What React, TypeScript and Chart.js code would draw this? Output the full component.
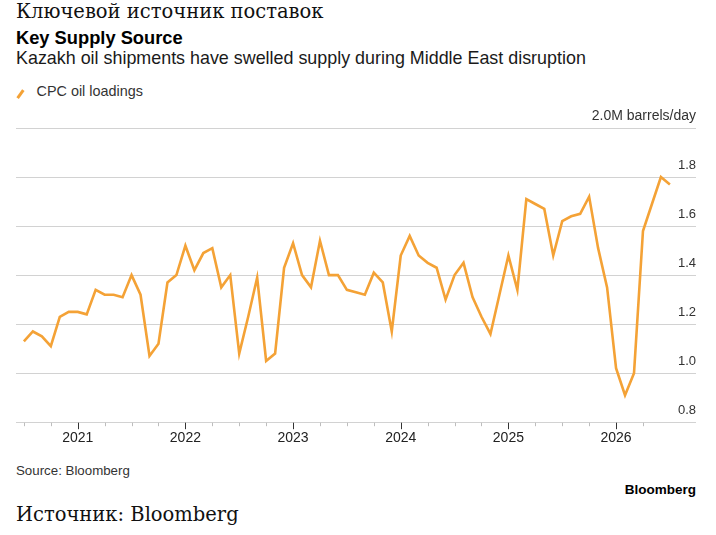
import React, { useEffect, useRef } from 'react';
import { Chart, registerables } from 'chart.js';

Chart.register(...registerables);

// Monthly CPC oil loadings, million barrels/day
const months = [
  '2020-07', '2020-08', '2020-09', '2020-10', '2020-11', '2020-12',
  '2021-01', '2021-02', '2021-03', '2021-04', '2021-05', '2021-06',
  '2021-07', '2021-08', '2021-09', '2021-10', '2021-11', '2021-12',
  '2022-01', '2022-02', '2022-03', '2022-04', '2022-05', '2022-06',
  '2022-07', '2022-08', '2022-09', '2022-10', '2022-11', '2022-12',
  '2023-01', '2023-02', '2023-03', '2023-04', '2023-05', '2023-06',
  '2023-07', '2023-08', '2023-09', '2023-10', '2023-11', '2023-12',
  '2024-01', '2024-02', '2024-03', '2024-04', '2024-05', '2024-06',
  '2024-07', '2024-08', '2024-09', '2024-10', '2024-11', '2024-12',
  '2025-01', '2025-02', '2025-03', '2025-04', '2025-05', '2025-06',
  '2025-07', '2025-08', '2025-09', '2025-10', '2025-11', '2025-12',
  '2026-01', '2026-02', '2026-03', '2026-04', '2026-05', '2026-06',
  '2026-07',
];

const cpcLoadings = [
  1.13, 1.17, 1.15, 1.11, 1.23, 1.25,
  1.25, 1.24, 1.34, 1.32, 1.32, 1.31,
  1.40, 1.32, 1.07, 1.12, 1.37, 1.40,
  1.52, 1.42, 1.49, 1.51, 1.35, 1.40,
  1.08, 1.23, 1.39, 1.05, 1.08, 1.43,
  1.53, 1.40, 1.35, 1.54, 1.40, 1.40,
  1.34, 1.33, 1.32, 1.41, 1.37, 1.17,
  1.48, 1.56, 1.48, 1.45, 1.43, 1.30,
  1.40, 1.45, 1.31, 1.23, 1.16, 1.32,
  1.48, 1.34, 1.71, 1.69, 1.67, 1.48,
  1.62, 1.64, 1.65, 1.72, 1.51, 1.35,
  1.02, 0.91, 1.00, 1.58, 1.69, 1.80,
  1.77,
];

const xTickMonths = [
  '2020-07', '2020-10',
  '2021-01', '2021-04', '2021-07', '2021-10',
  '2022-01', '2022-04', '2022-07', '2022-10',
  '2023-01', '2023-04', '2023-07', '2023-10',
  '2024-01', '2024-04', '2024-07', '2024-10',
  '2025-01', '2025-04', '2025-07', '2025-10',
  '2026-01', '2026-04',
];
const yearLabels = ['2021', '2022', '2023', '2024', '2025', '2026'];

const yTickValues = [0.8, 1.0, 1.2, 1.4, 1.6, 1.8, 2.0];
const yTickLabels = ['0.8', '1.0', '1.2', '1.4', '1.6', '1.8', '2.0M barrels/day'];

const LINE_COLOR = '#F4A236';
const SANS = '"Liberation Sans", Arial, Helvetica, sans-serif';
const SERIF = '"DejaVu Serif", serif';

const monthIndex = (s: string) =>
  (parseInt(s.slice(0, 4), 10) - 2020) * 12 + parseInt(s.slice(5, 7), 10) - 1;

const isYearStart = (v: number) => yearLabels.some((y) => monthIndex(y + '-01') === v);

const tickMarks = {
  id: 'tickMarks',
  afterDraw(chart: any) {
    const xs = chart.scales.x;
    const ctx = chart.ctx;
    const bottom = chart.chartArea.bottom;
    ctx.save();
    ctx.lineWidth = 1;
    xs.ticks.forEach((t: any) => {
      const px = Math.round(xs.getPixelForValue(t.value)) + 0.5;
      const major = isYearStart(t.value);
      ctx.strokeStyle = major ? '#333333' : '#bdbdbd';
      ctx.beginPath();
      ctx.moveTo(px, bottom + 0.5);
      ctx.lineTo(px, bottom + (major ? 7 : 4));
      ctx.stroke();
    });
    ctx.restore();
  },
};

function LineChart() {
  const ref = useRef<HTMLCanvasElement | null>(null);
  useEffect(() => {
    if (!ref.current) return;
    const chart = new Chart(ref.current, {
      type: 'line',
      data: {
        datasets: [
          {
            label: 'CPC oil loadings',
            data: months.map((m, i) => ({ x: monthIndex(m), y: cpcLoadings[i] })),
            borderColor: LINE_COLOR,
            borderWidth: 2.6,
            pointRadius: 0,
            tension: 0,
            fill: false,
          },
        ],
      },
      options: {
        animation: false,
        responsive: false,
        events: [],
        layout: { padding: { top: 28, left: 0, right: 0, bottom: 0 } },
        plugins: { legend: { display: false }, tooltip: { enabled: false } },
        scales: {
          x: {
            type: 'linear',
            min: 5.12,
            max: 80.91,
            border: { display: false },
            grid: {
              display: true,
              drawOnChartArea: false,
              drawTicks: true,
              tickLength: 7,
              color: 'rgba(0,0,0,0)',
              tickColor: 'rgba(0,0,0,0)',
            },
            afterBuildTicks: (axis: any) => {
              axis.ticks = xTickMonths.map((m) => ({ value: monthIndex(m) }));
            },
            ticks: {
              autoSkip: false,
              maxRotation: 0,
              padding: 1,
              color: '#222222',
              font: { family: SANS, size: 14 },
              callback: (value: any) => {
                const y = yearLabels.find((yl) => monthIndex(yl + '-01') === Number(value));
                return y ?? '';
              },
            },
          },
          y: {
            type: 'linear',
            position: 'right',
            min: 0.8,
            max: 2.0,
            border: { display: false },
            grid: {
              color: '#d2d2d2',
              lineWidth: 1,
              drawTicks: false,
            },
            afterBuildTicks: (axis: any) => {
              axis.ticks = yTickValues.map((v) => ({ value: v }));
            },
            ticks: {
              mirror: true,
              padding: 0,
              labelOffset: -12,
              color: '#333333',
              font: (ctx: any) => ({
                family: SANS,
                size: ctx.tick && Math.abs(ctx.tick.value - 2.0) < 1e-6 ? 14 : 13,
              }),
              callback: (value: any) => {
                const i = yTickValues.findIndex((v) => Math.abs(v - Number(value)) < 1e-6);
                return i >= 0 ? yTickLabels[i] : '';
              },
            },
          },
        },
      },
      plugins: [tickMarks],
    } as any);
    return () => chart.destroy();
  }, []);
  return <canvas ref={ref} width={680} height={348} style={{ width: 680, height: 348, display: 'block' }} />;
}

const abs = (top: number, left: number, extra: React.CSSProperties = {}): React.CSSProperties => ({
  position: 'absolute',
  top,
  left,
  lineHeight: 1,
  whiteSpace: 'nowrap',
  margin: 0,
  ...extra,
});

export default function App() {
  return (
    <div style={{ position: 'absolute', left: 0, top: 0, width: 716, height: 535, background: '#ffffff', overflow: 'hidden' }}>
      <div style={abs(2.0, 16, { fontFamily: SERIF, fontSize: 19.5, color: '#111' })}>Ключевой источник поставок</div>
      <div style={abs(29.0, 16, { fontFamily: SANS, fontSize: 18.3, fontWeight: 700, color: '#000' })}>Key Supply Source</div>
      <div style={abs(50.3, 16, { fontFamily: SANS, fontSize: 17.9, color: '#1a1a1a' })}>
        Kazakh oil shipments have swelled supply during Middle East disruption
      </div>
      <div
        style={{
          position: 'absolute',
          left: 19,
          top: 88.5,
          width: 2.6,
          height: 10,
          background: LINE_COLOR,
          transform: 'rotate(35deg)',
        }}
      />
      <div style={abs(84.4, 36.5, { fontFamily: SANS, fontSize: 14.4, color: '#333' })}>CPC oil loadings</div>
      <div style={{ position: 'absolute', left: 16, top: 100, width: 680, height: 348 }}>
        <LineChart />
      </div>
      <div style={abs(464.4, 16, { fontFamily: SANS, fontSize: 13.3, color: '#333' })}>Source: Bloomberg</div>
      <div style={abs(482.6, 0, { fontFamily: SANS, fontSize: 13.5, fontWeight: 700, color: '#000', width: 696, textAlign: 'right' })}>
        Bloomberg
      </div>
      <div style={abs(504.5, 16, { fontFamily: SERIF, fontSize: 19.5, color: '#111' })}>Источник: Bloomberg</div>
    </div>
  );
}
